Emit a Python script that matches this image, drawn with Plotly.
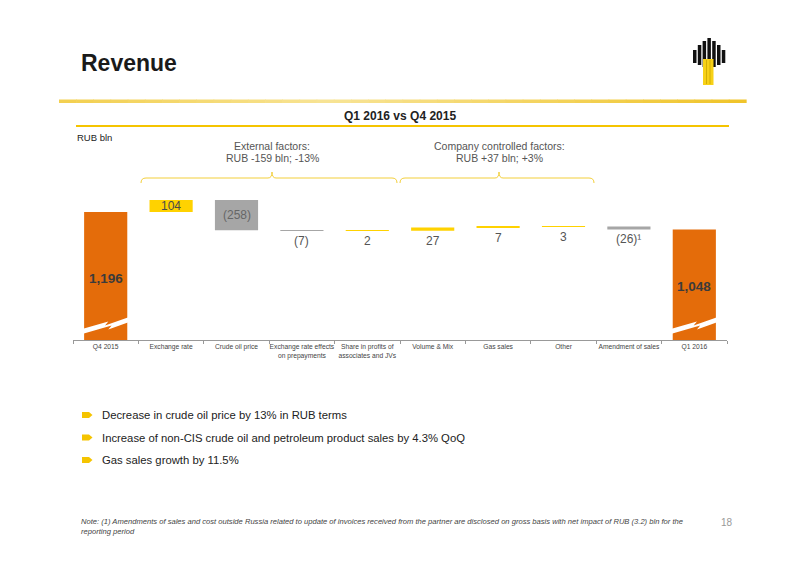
import plotly.graph_objects as go

# ---------------- data ----------------
categories = [
    "Q4 2015",
    "Exchange rate",
    "Crude oil price",
    "Exchange rate effects<br>on prepayments",
    "Share in profits of<br>associates and JVs",
    "Volume & Mix",
    "Gas sales",
    "Other",
    "Amendment of sales",
    "Q1 2016",
]
values = [1196, 104, -258, -7, 2, 27, 7, 3, -26, 1048]
measures = ["absolute"] + ["relative"] * 8 + ["total"]
value_labels = ["1,196", "104", "(258)", "(7)", "2", "27", "7", "3", "(26)¹", "1,048"]

bullets = [
    "Decrease in crude oil price by 13% in RUB terms",
    "Increase of non-CIS crude oil and petroleum product sales by 4.3% QoQ",
    "Gas sales growth by 11.5%",
]
groups = [
    ("External factors:", "RUB -159 bln; -13%"),
    ("Company controlled factors:", "RUB +37 bln; +3%"),
]

# ---------------- style ----------------
FONT = "Liberation Sans, Arial, sans-serif"
ORANGE = "#E46C0A"
YELLOW = "#FFD200"
GREY = "#A6A6A6"
LINE_Y = "#F5C400"

OFF = 8                      # default page margin of the html body
W, H = 800 - 2 * OFF, 566 - 2 * OFF
PLOT_L, PLOT_R, PLOT_T, PLOT_B = 73, 727, 190, 340   # page pixel box of the plot area
L = PLOT_L - OFF
R = (800 - OFF) - PLOT_R
T = PLOT_T - OFF
B = (566 - OFF) - PLOT_B
PW, PH = PLOT_R - PLOT_L, PLOT_B - PLOT_T
Y_MIN, Y_MAX = 103, 1385


def px(x):
    return (x - PLOT_L) / PW


def py(y):
    return (PLOT_B - y) / PH


def text_ann(x, y, text, size, color, xanchor="center", **kw):
    d = dict(x=px(x), y=py(y), xref="paper", yref="paper", xanchor=xanchor,
             yanchor="middle", showarrow=False, text=text,
             font=dict(family=FONT, size=size, color=color))
    d.update(kw)
    return d


fig = go.Figure()
fig.add_trace(go.Waterfall(
    x=categories,
    y=values,
    measure=measures,
    width=0.66,
    connector=dict(visible=False),
    increasing=dict(marker=dict(color=YELLOW)),
    decreasing=dict(marker=dict(color=GREY)),
    totals=dict(marker=dict(color=ORANGE)),
    hoverinfo="skip",
    showlegend=False,
))

annotations = []
shapes = []

# value labels
running = 0
for i, (m, v, lab) in enumerate(zip(measures, values, value_labels)):
    if m in ("absolute", "total"):
        if m == "absolute":
            running = v
        top = running
        annotations.append(dict(
            x=categories[i], y=Y_MIN + 0.48 * (top - Y_MIN), xref="x", yref="y",
            xanchor="center", yanchor="middle",
            text="<b>" + lab + "</b>", showarrow=False,
            font=dict(family=FONT, size=13.5, color="#3b3b3b"),
        ))
        # axis break symbol on the total bars
        c = i
        hw = 0.34
        pts = [(-hw - 0.02, 329), (0.04, 321.5), (-0.01, 325.5), (hw + 0.02, 317),
               (hw + 0.02, 322), (0.04, 329.5), (0.09, 325.5), (-hw - 0.02, 334)]
        path = "M " + " L ".join(
            f"{c + dx:.4f},{py(yy):.4f}" for dx, yy in pts) + " Z"
        shapes.append(dict(type="path", path=path, xref="x", yref="paper",
                           fillcolor="white", line=dict(width=0), layer="above"))
    else:
        start = running
        end = running + v
        running = end
        lo, hi = min(start, end), max(start, end)
        if abs(v) > 50:
            annotations.append(dict(
                x=categories[i], y=(lo + hi) / 2, xref="x", yref="y",
                xanchor="center", yanchor="middle",
                text=lab, showarrow=False,
                font=dict(family=FONT, size=12, color="#4a4a4a" if v > 0 else "#666666"),
            ))
        else:
            annotations.append(dict(
                x=categories[i], y=lo, xref="x", yref="y", yshift=-10,
                xanchor="center", yanchor="middle",
                text=lab, showarrow=False,
                font=dict(family=FONT, size=12, color="#555555"),
            ))

# ---------------- header ----------------
annotations.append(text_ann(79, 63, "<b>Revenue</b>", 23, "#1a1a1a", xanchor="left"))

# gradient rule
x0, x1 = 59, 746
nseg = 40
for k in range(nseg):
    a = x0 + (x1 - x0) * k / nseg
    b = x0 + (x1 - x0) * (k + 1) / nseg
    mid = (a + b) / 2
    t = min(1.0, abs(mid - 330) / 420)
    c0 = (248, 228, 150)
    c1 = (240, 196, 40)
    col = tuple(int(c0[j] + (c1[j] - c0[j]) * t) for j in range(3))
    shapes.append(dict(type="rect", xref="paper", yref="paper",
                       x0=px(a), x1=px(b) + 0.001, y0=py(103), y1=py(99.5),
                       fillcolor="rgb(%d,%d,%d)" % col, line=dict(width=0)))

annotations.append(text_ann(400, 116, "<b>Q1 2016 vs Q4 2015</b>", 12, "#222222"))
shapes.append(dict(type="line", xref="paper", yref="paper",
                   x0=px(76), x1=px(729), y0=py(126), y1=py(126),
                   line=dict(color=LINE_Y, width=2)))
annotations.append(text_ann(75, 137, "RUB bln", 9.5, "#222222", xanchor="left"))

# logo
logo_bars = [(693, 50, 63), (697.8, 45, 65), (702.6, 41, 67), (707.4, 38, 68),
             (712.2, 41, 67), (717.0, 45, 65), (721.8, 50, 63)]
for xb, yt, yb in logo_bars:
    shapes.append(dict(type="rect", xref="paper", yref="paper",
                       x0=px(xb), x1=px(xb + 3.5), y0=py(yb), y1=py(yt),
                       fillcolor="#111111", line=dict(width=0)))
shapes.append(dict(type="rect", xref="paper", yref="paper",
                   x0=px(703), x1=px(713.5), y0=py(85), y1=py(59),
                   fillcolor="#F7D117", line=dict(width=0)))
for xs in (706.5, 710):
    shapes.append(dict(type="line", xref="paper", yref="paper",
                       x0=px(xs), x1=px(xs), y0=py(84), y1=py(60),
                       line=dict(color="#C9A400", width=0.8)))

# braces
brace_spans = [(141, 272, 397), (400, 499, 594)]
for (xa, xm, xb), (l1, l2) in zip(brace_spans, groups):
    yh, ye, yt = 178, 183, 172
    pts = [
        f"M {px(xa)},{py(ye)}",
        f"Q {px(xa)},{py(yh)} {px(xa + 5)},{py(yh)}",
        f"L {px(xm - 4)},{py(yh)}",
        f"Q {px(xm)},{py(yh)} {px(xm)},{py(yt)}",
        f"Q {px(xm)},{py(yh)} {px(xm + 4)},{py(yh)}",
        f"L {px(xb - 5)},{py(yh)}",
        f"Q {px(xb)},{py(yh)} {px(xb)},{py(ye)}",
    ]
    shapes.append(dict(type="path", xref="paper", yref="paper", path=" ".join(pts),
                       line=dict(color="#F3CF3A", width=1)))
    annotations.append(text_ann(xm, 145.5, l1, 10.5, "#555555"))
    annotations.append(text_ann(xm, 157.5, l2, 10.5, "#555555"))

# bullets
for k, txt in enumerate(bullets):
    yc = [415, 437.5, 460][k]
    path = (f"M {px(82)},{py(yc - 3)} L {px(89)},{py(yc - 3)} L {px(92.5)},{py(yc)} "
            f"L {px(89)},{py(yc + 3)} L {px(82)},{py(yc + 3)} Z")
    shapes.append(dict(type="path", xref="paper", yref="paper", path=path,
                       fillcolor="#F5C400", line=dict(width=0)))
    annotations.append(text_ann(100, yc, txt, 11.3, "#222222", xanchor="left"))

# note and page number
annotations.append(text_ann(
    79, 526,
    ("<i>Note: (1) Amendments of sales and cost outside Russia related to update of invoices "
     "received from the partner are disclosed on gross basis with net impact of RUB (3.2) bln for the"
     "<br>reporting period</i>"),
    7.6, "#444444", xanchor="left", align="left"))
annotations.append(text_ann(727, 522, "18", 10, "#999999"))

fig.update_layout(
    width=W, height=H,
    margin=dict(l=L, r=R, t=T, b=B, autoexpand=False),
    paper_bgcolor="white", plot_bgcolor="white",
    font=dict(family=FONT),
    xaxis=dict(
        type="category", showgrid=False, zeroline=False,
        showline=True, linecolor="#999999", linewidth=1,
        ticks="outside", ticklen=3, tickcolor="#999999", tickson="boundaries",
        tickangle=0, automargin=False,
        tickfont=dict(family=FONT, size=6.7, color="#444444"),
        fixedrange=True,
    ),
    yaxis=dict(visible=False, range=[Y_MIN, Y_MAX], fixedrange=True, automargin=False),
    annotations=annotations,
    shapes=shapes,
    showlegend=False,
)

fig.write_html("out.html")
